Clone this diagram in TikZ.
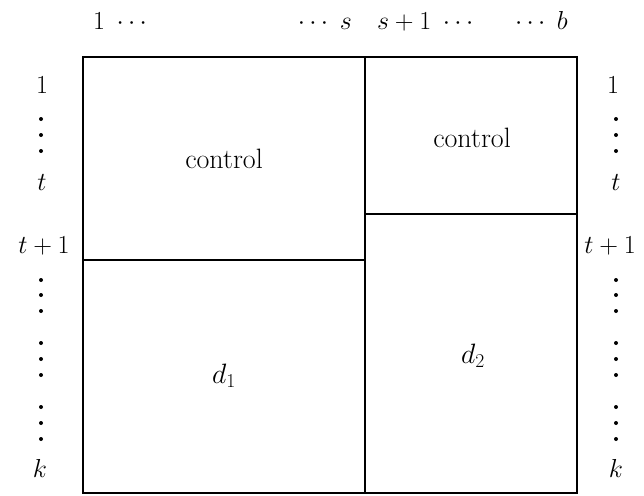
\RequirePackage{fix-cm}
\documentclass[tikz,border=0pt]{standalone}
\begin{document}
\begin{tikzpicture}[x=1pt,y=-1pt,
  lbl/.style={font=\fontsize{26}{31}\selectfont, inner sep=0pt, anchor=base},
  celltext/.style={font=\fontsize{28}{33}\selectfont, inner sep=0pt},
  cellbox/.style={draw=black, line width=2.8pt, line join=miter},
  vdot/.style={fill=black, draw=none}]
\useasboundingbox (0,0) rectangle (644,495);
% cells
\draw[cellbox] (83,57) rectangle (577,493);
\draw[cellbox] (365,57) -- (365,493);
\draw[cellbox] (83,260) -- (365,260);
\draw[cellbox] (365,214) -- (577,214);
\coordinate (cA) at (224,159);
\coordinate (cB) at (472,138);
\coordinate (cC) at (224,376);
\coordinate (cD) at (473,356);
\node[celltext] (ctlA) at (cA) {control};
\node[celltext] (ctlB) at (cB) {control};
\node[celltext] (dA) at (cC) {$d_1$};
\node[celltext] (dB) at (cD) {$d_2$};
% top labels
\node[lbl, anchor=base west] (top1) at (93,30) {$1\;\cdots$};
\node[lbl, anchor=base east] (tops) at (352,30) {$\cdots\; s$};
\node[lbl, anchor=base west] (tops1) at (377,30) {$s+1\;\cdots$};
\node[lbl, anchor=base east] (topb) at (568,30) {$\cdots\; b$};
% left labels
\node[lbl] (l1) at (42,93) {$1$};
\node[lbl] (lt) at (42,190) {$t$};
\node[lbl] (lt1) at (44,253) {$t+1$};
\node[lbl] (lk) at (40,477) {$k$};
% right labels
\node[lbl] (r1) at (613,93) {$1$};
\node[lbl] (rt) at (616,190) {$t$};
\node[lbl] (rt1) at (610,253) {$t+1$};
\node[lbl] (rk) at (616,477) {$k$};
% vertical dots
\foreach \xx in {41,616}{
  \foreach \yy in {119,135,151, 280,295,311, 343,359,375, 407,423,439}{
    \fill[vdot] (\xx,\yy) circle (2.0);
  }
}
\end{tikzpicture}
\end{document}
